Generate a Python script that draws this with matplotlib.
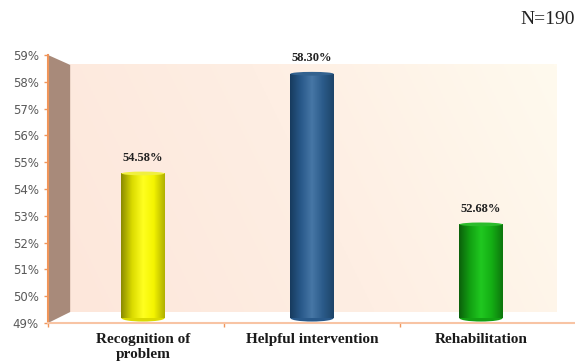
import numpy as np
import matplotlib.pyplot as plt
from matplotlib.colors import LinearSegmentedColormap
from matplotlib.patches import Ellipse, Polygon

# data
categories = ["Recognition of\nproblem", "Helpful intervention", "Rehabilitation"]
values = [0.5458, 0.5830, 0.5268]
value_labels = ["54.58%", "58.30%", "52.68%"]
yticks = [0.49, 0.50, 0.51, 0.52, 0.53, 0.54, 0.55, 0.56, 0.57, 0.58, 0.59]

# cylinder shading: dark edge -> highlight -> dark edge
shades = [
    ["#8a8a00", "#dada00", "#ffff20", "#f4f400", "#b0b000"],
    ["#173b5e", "#29598a", "#4777a6", "#2b5b8a", "#1d4468"],
    ["#0b600b", "#12a012", "#20c820", "#14ae14", "#0d760d"],
]
tops = ["#f0f040", "#33628f", "#2cbc2c"]

fig = plt.figure(figsize=(5.75, 3.63), dpi=100)
ax = fig.add_axes([48 / 575, 40 / 363, 528 / 575, 268 / 363])
ax.set_xlim(-0.5, 2.5)
ax.set_ylim(0.49, 0.59)

# back wall with soft gradient
grad = np.linspace(0, 0.8, 256).reshape(1, -1)
grad = grad + np.linspace(0, 0.2, 64).reshape(-1, 1)
wall_cmap = LinearSegmentedColormap.from_list("wall", ["#fde7db", "#feeee3", "#fffaee"])
ax.imshow(grad, cmap=wall_cmap, extent=[0.042, 0.964, 0.041, 0.963],
          transform=ax.transAxes, aspect="auto", zorder=0, origin="lower",
          vmin=0, vmax=1)

# side wall
ax.add_patch(Polygon([(0, 1), (0.042, 0.963), (0.042, 0.041), (0, 0)],
                     closed=True, transform=ax.transAxes,
                     facecolor="#a88a7a", edgecolor="none", zorder=1))

x = np.arange(len(categories))
# slight perspective shift toward the middle
bar_x = x + np.array([0.04, 0.0, -0.04])
bottom = 0.4918
bars = ax.bar(bar_x, np.array(values) - bottom, bottom=bottom, width=0.245,
              color="none", edgecolor="none", zorder=3)

ell_h = 0.0014
for b, sh, tc, v, lab in zip(bars, shades, tops, values, value_labels):
    x0, w = b.get_x(), b.get_width()
    cmap = LinearSegmentedColormap.from_list("cyl", sh)
    # rounded bottom
    ax.add_patch(Ellipse((x0 + w / 2, bottom), w, ell_h * 1.8,
                         facecolor=sh[1], edgecolor="none", zorder=3))
    im = ax.imshow(np.linspace(0, 1, 128).reshape(1, -1), cmap=cmap,
                   extent=[x0, x0 + w, bottom, v], aspect="auto", zorder=4)
    im.set_clip_path(b)
    # lid
    ax.add_patch(Ellipse((x0 + w / 2, v), w, ell_h,
                         facecolor=tc, edgecolor="none", zorder=5))
    ax.annotate(lab, (x0 + w / 2, v), xytext=(0, 7), textcoords="offset points",
                ha="center", va="bottom", fontsize=9, fontweight="bold",
                family="Liberation Serif", color="#222222")

# axes styling
for s in ["top", "right"]:
    ax.spines[s].set_visible(False)
ax.spines["left"].set_color("#f0955a")
ax.spines["left"].set_linewidth(1.5)
ax.spines["bottom"].set_color("#f8c4a4")
ax.spines["bottom"].set_linewidth(1.5)

ax.set_yticks(yticks)
ax.set_yticklabels(["%d%%" % round(t * 100) for t in yticks],
                   fontsize=8.5, color="#595959")
ax.tick_params(axis="y", colors="#f0955a", length=3, width=1, labelcolor="#595959")

ax.set_xticks(bar_x)
ax.set_xticklabels(categories, fontsize=11, fontweight="bold",
                   family="Liberation Serif", color="#1a1a1a", linespacing=1.25)
ax.tick_params(axis="x", length=0, pad=7)
ax.set_xticks([-0.5, 0.5, 1.5, 2.5], minor=True)
ax.tick_params(axis="x", which="minor", length=3, color="#f0955a", width=1)

fig.text(0.999, 0.945, "N=190", ha="right", va="center", fontsize=14,
         family="Liberation Serif", color="#222222")

fig.savefig("out.png", dpi=100)
